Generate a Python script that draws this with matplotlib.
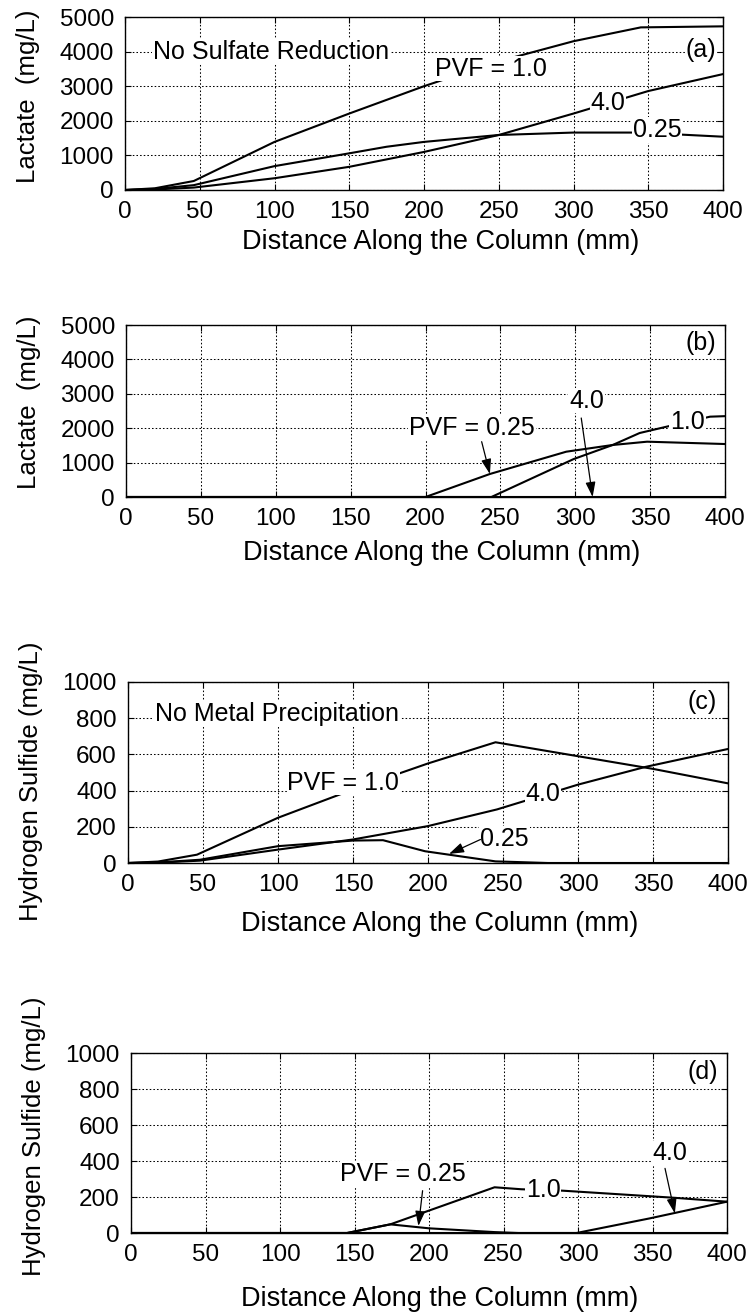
import matplotlib
matplotlib.use('Agg')
import matplotlib.pyplot as plt
import numpy as np

plt.rcParams['font.family'] = ['Liberation Sans', 'DejaVu Sans']

# (a) lactate, no sulfate reduction
xA10 = [0, 20, 46, 100, 150, 200, 250, 300, 345, 400]
yA10 = [0, 50, 260, 1390, 2210, 3000, 3720, 4300, 4700, 4730]
xA40 = [0, 20, 46, 100, 150, 200, 250, 300, 350, 400]
yA40 = [0, 15, 70, 340, 670, 1100, 1590, 2210, 2860, 3350]
xA025 = [0, 20, 46, 100, 150, 175, 200, 250, 300, 345, 400]
yA025 = [0, 30, 140, 690, 1060, 1250, 1390, 1590, 1660, 1660, 1540]

# (b) lactate
xB025 = [0, 200, 243, 294, 325, 348, 400]
yB025 = [0, 0, 669, 1317, 1512, 1608, 1540]
xB10 = [0, 244, 299, 325, 343, 361, 390, 400]
yB10 = [0, 0, 1104, 1512, 1860, 2044, 2335, 2350]
xB40 = [0, 400]
yB40 = [0, 0]

# (c) hydrogen sulfide, no metal precipitation
xC10 = [0, 20, 46, 100, 150, 200, 245, 300, 350, 400]
yC10 = [0, 8, 46, 250, 406, 550, 667, 590, 520, 440]
xC40 = [0, 20, 48, 100, 150, 200, 246, 300, 345, 400]
yC40 = [0, 2, 13, 74, 130, 204, 296, 433, 531, 630]
xC025 = [0, 20, 48, 100, 150, 170, 198, 245, 280, 400]
yC025 = [0, 3, 18, 93, 124, 126, 65, 9, 0, 0]

# (d) hydrogen sulfide
xD025 = [0, 145, 174, 200, 244, 260, 400]
yD025 = [0, 0, 48, 26, 5, 0, 0]
xD10 = [0, 145, 174, 244, 262, 290, 364, 400]
yD10 = [0, 0, 48, 254, 243, 235, 196, 174]
xD40 = [0, 299, 348, 400]
yD40 = [0, 0, 81, 174]

xTicks = np.arange(0, 401, 50)
W, H = 748, 1315

fig = plt.figure(figsize=(7.48, 13.15), dpi=100)

def mkax(l, r, t, b):
    return fig.add_axes([l/W, 1 - b/H, (r - l)/W, (b - t)/H])

def style(ax, ymax, ystep, ylab, xpad, xlx, yly):
    ax.set_xlim(0, 400)
    ax.set_ylim(0, ymax)
    ax.set_xticks(xTicks)
    ax.set_yticks(np.arange(0, ymax + 1, ystep))
    ax.grid(True, color='k', linestyle=(0, (1.5, 2.0)), lw=0.75)
    ax.tick_params(direction='in', top=True, right=True, length=4, labelsize=17.5, pad=8)
    ax.set_xlabel('Distance Along the Column (mm)', fontsize=19.5, labelpad=xpad)
    ax.set_ylabel(ylab, fontsize=18.5, labelpad=14)
    ax.xaxis.label.set_x(xlx)
    ax.yaxis.label.set_y(yly)
    for s in ax.spines.values():
        s.set_linewidth(1.0)

def lbl(ax, x, y, s, ha='center'):
    ax.text(x, y, s, fontsize=18, ha=ha, va='center', zorder=5,
            bbox=dict(facecolor='white', edgecolor='none', pad=0.5))

def arr(ax, x0, y0, x1, y1):
    ax.annotate('', xy=(x1, y1), xytext=(x0, y0), zorder=6,
                arrowprops=dict(arrowstyle='-|>,head_length=0.9,head_width=0.3',
                                color='k', lw=0.9, shrinkA=0, shrinkB=0))

lineKw = dict(color='k', lw=1.5, zorder=3)

# (a)
ax = mkax(125, 723, 17, 190)
ax.plot(xA10, yA10, **lineKw)
ax.plot(xA40, yA40, **lineKw)
ax.plot(xA025, yA025, **lineKw)
style(ax, 5000, 1000, 'Lactate  (mg/L)', 4, 0.527, 0.54)
lbl(ax, 18.7, 4000, 'No Sulfate Reduction', ha='left')
lbl(ax, 385, 4046, '(a)')
lbl(ax, 245, 3510, 'PVF = 1.0')
lbl(ax, 323, 2514, '4.0')
lbl(ax, 356, 1734, '0.25')

# (b)
ax = mkax(126, 725, 325, 497)
ax.plot(xB025, yB025, **lineKw)
ax.plot(xB10, yB10, **lineKw)
ax.plot(xB40, yB40, **lineKw)
style(ax, 5000, 1000, 'Lactate  (mg/L)', 7, 0.527, 0.55)
lbl(ax, 384, 4464, '(b)')
lbl(ax, 231, 2000, 'PVF = 0.25')
arr(ax, 237.5, 1608, 243, 669)
lbl(ax, 307.6, 2800, '4.0')
arr(ax, 304, 2296, 311.6, 0)
lbl(ax, 375, 2190, '1.0')

# (c)
ax = mkax(128, 728, 682, 863)
ax.plot(xC10, yC10, **lineKw)
ax.plot(xC40, yC40, **lineKw)
ax.plot(xC025, yC025, **lineKw)
style(ax, 1000, 200, 'Hydrogen Sulfide (mg/L)', 11, 0.52, 0.45)
lbl(ax, 18, 825, 'No Metal Precipitation', ha='left')
lbl(ax, 383, 889, '(c)')
lbl(ax, 143.5, 444, 'PVF = 1.0')
lbl(ax, 276.5, 380, '4.0')
lbl(ax, 251, 135, '0.25')
arr(ax, 235, 130, 214, 50)

# (d)
ax = mkax(131, 727, 1053, 1233)
ax.plot(xD025, yD025, **lineKw)
ax.plot(xD10, yD10, **lineKw)
ax.plot(xD40, yD40, **lineKw)
style(ax, 1000, 200, 'Hydrogen Sulfide (mg/L)', 14, 0.517, 0.54)
lbl(ax, 384, 894, '(d)')
lbl(ax, 182.8, 328, 'PVF = 0.25')
arr(ax, 195.7, 235, 192.9, 39)
lbl(ax, 276.7, 240, '1.0')
lbl(ax, 361.7, 443, '4.0')
arr(ax, 358.4, 359, 365, 109)

fig.savefig('out.png', dpi=100)
